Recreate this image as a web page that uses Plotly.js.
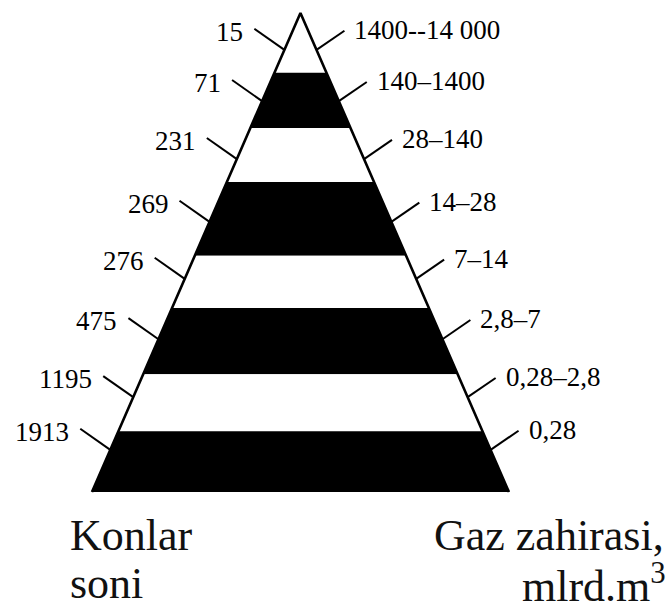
<!DOCTYPE html>
<html><head><meta charset="utf-8">
<script src="https://cdn.plot.ly/plotly-3.0.1.min.js"></script>
<style>html,body{margin:0;padding:0;background:#fff}</style>
</head><body><div id="chart" style="width:672px;height:602px"></div>
<script>
// Number of fields per class (left side), top band first
const fieldCounts = ["15", "71", "231", "269", "276", "475", "1195", "1913"];
// Gas reserve class, bln m3 (right side), top band first
const gasReserves = ["1400--14 000", "140–1400", "28–140", "14–28", "7–14", "2,8–7", "0,28–2,8", "0,28"];
// Band edges as a share of the pyramid height (0 = base, 1 = apex)
const bandTops    = [1.000, 0.875, 0.760, 0.647, 0.493, 0.384, 0.246, 0.127];
const bandBottoms = [0.875, 0.760, 0.647, 0.493, 0.384, 0.246, 0.127, 0.000];
// Height share where each band's label leader meets the pyramid side
const leaderLevels = [0.923, 0.816, 0.695, 0.564, 0.445, 0.319, 0.198, 0.088];
const leftTitle = ["Konlar", "soni"];
const rightTitle = ["Gaz zahirasi,", "mlrd.m<sup>3</sup>"];

const halfW = y => 1 - y;
const traces = [];
bandTops.forEach((hi, i) => {
  const lo = bandBottoms[i];
  traces.push({
    type: 'scatter', mode: 'lines', hoverinfo: 'skip', showlegend: false,
    x: [-halfW(lo), halfW(lo), halfW(hi), -halfW(hi), -halfW(lo)],
    y: [lo, lo, hi, hi, lo],
    fill: 'toself', fillcolor: i % 2 ? '#000' : '#fff',
    line: {width: 0, color: i % 2 ? '#000' : '#fff'}
  });
});
// pyramid outline
traces.push({
  type: 'scatter', mode: 'lines', hoverinfo: 'skip', showlegend: false,
  x: [-1, 0, 1], y: [0, 1, 0],
  line: {color: '#000', width: 2.6}
});
// leader lines
const dxL = -0.144, dyL = 0.044, dxR = 0.134, dyR = 0.040;
const lx = [], ly = [], rx = [], ry = [];
const annotations = [];
const lblFont = {family: 'Liberation Serif, Times New Roman, serif', size: 27, color: '#000'};
leaderLevels.forEach((ya, i) => {
  const xl = -halfW(ya), xr = halfW(ya);
  lx.push(xl, xl + dxL, null); ly.push(ya, ya + dyL, null);
  rx.push(xr, xr + dxR, null); ry.push(ya, ya + dyR, null);
  annotations.push({x: xl + dxL, y: ya + dyL, xref: 'x', yref: 'y', text: fieldCounts[i],
    showarrow: false, xanchor: 'right', yanchor: 'middle', xshift: -9, yshift: -3, font: lblFont});
  annotations.push({x: xr + dxR, y: ya + dyR, xref: 'x', yref: 'y', text: gasReserves[i],
    showarrow: false, xanchor: 'left', yanchor: 'middle', xshift: 8, yshift: 1, font: lblFont});
});
traces.push({type: 'scatter', mode: 'lines', hoverinfo: 'skip', showlegend: false,
  x: lx, y: ly, line: {color: '#000', width: 2}});
traces.push({type: 'scatter', mode: 'lines', hoverinfo: 'skip', showlegend: false,
  x: rx, y: ry, line: {color: '#000', width: 2}});

const bigFont = {family: 'Liberation Serif, Times New Roman, serif', size: 44, color: '#111'};
annotations.push({xref: 'paper', yref: 'paper', x: 68 / 672, y: 1 - 535 / 602, text: leftTitle[0],
  showarrow: false, xanchor: 'left', yanchor: 'middle', font: bigFont});
annotations.push({xref: 'paper', yref: 'paper', x: 68 / 672, y: 1 - 583 / 602, text: leftTitle[1],
  showarrow: false, xanchor: 'left', yanchor: 'middle', font: bigFont});
annotations.push({xref: 'paper', yref: 'paper', x: 666 / 672, y: 1 - 535 / 602, text: rightTitle[0],
  showarrow: false, xanchor: 'right', yanchor: 'middle', font: bigFont});
annotations.push({xref: 'paper', yref: 'paper', x: 668 / 672, y: 1 - 583 / 602, text: rightTitle[1],
  showarrow: false, xanchor: 'right', yanchor: 'middle', font: bigFont});

const layout = {
  width: 672, height: 602,
  margin: {l: 0, r: 0, t: 0, b: 0},
  paper_bgcolor: '#fff', plot_bgcolor: '#fff',
  showlegend: false,
  xaxis: {range: [-1.441, 1.782], visible: false, fixedrange: true},
  yaxis: {range: [-0.2296, 1.0271], visible: false, fixedrange: true},
  annotations: annotations
};
Plotly.newPlot('chart', traces, layout, {displayModeBar: false, staticPlot: true});
</script></body></html>
